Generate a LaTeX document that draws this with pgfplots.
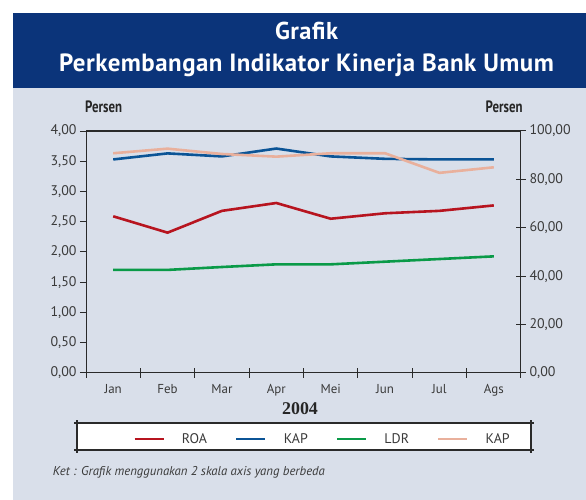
\documentclass[border=0pt]{standalone}
\usepackage{fontspec}
\setmainfont{PT Sans}
\newfontfamily\condfont{PT Sans}[FakeStretch=0.78]
\newfontfamily\titlefont{PT Sans}[LetterSpace=2]
\newfontfamily\serifb{Liberation Serif}
\usepackage{pgfplots}
\pgfplotsset{compat=1.18}
\definecolor{titlec}{HTML}{0B347A}
\definecolor{bgc}{HTML}{D9DFEA}
\definecolor{roac}{HTML}{B7141F}
\definecolor{kapc}{HTML}{0B5496}
\definecolor{ldrc}{HTML}{0A9A48}
\definecolor{kapp}{HTML}{E9B09C}
\definecolor{axc}{HTML}{2A2A2A}
\definecolor{txtc}{HTML}{3A3A3A}
\pgfplotstableread{
x roa kap
0 2.59 3.53
1 2.32 3.63
2 2.68 3.58
3 2.81 3.71
4 2.55 3.58
5 2.64 3.54
6 2.68 3.53
7 2.77 3.53
}\lefttab
\pgfplotstableread{
x ldr kapb
0 42.6 90.8
1 42.6 92.7
2 43.8 90.5
3 44.9 89.4
4 44.9 90.8
5 46.0 90.8
6 47.1 82.7
7 48.2 85.0
}\righttab
\begin{document}
\begin{tikzpicture}
\useasboundingbox (0bp,0bp) rectangle (586bp,500bp);
\fill[white] (0bp,0bp) rectangle (586bp,500bp);
\fill[bgc] (13bp,0bp) rectangle (586bp,412bp);
\fill[titlec] (13bp,412bp) rectangle (586bp,487.3bp);
\node[white, font=\titlefont\fontsize{24.5}{24.5}\selectfont\bfseries, anchor=base, inner sep=0pt] at (306.5bp,460.5bp) {Grafik};
\node[white, font=\titlefont\fontsize{25}{25}\selectfont\bfseries, anchor=base, inner sep=0pt] at (306.5bp,428bp) {Perkembangan Indikator Kinerja Bank Umum};
\node[text=black!85, font=\condfont\fontsize{16.5}{16.5}\selectfont\bfseries, anchor=base west, inner sep=0pt] at (85bp,387bp) {Persen};
\node[text=black!85, font=\condfont\fontsize{16.5}{16.5}\selectfont\bfseries, anchor=base east, inner sep=0pt] at (522.7bp,387bp) {Persen};
\node[text=black!85, font=\serifb\fontsize{18}{18}\selectfont\bfseries, anchor=base, inner sep=0pt] at (300bp,85bp) {2004};
\node[text=txtc, font=\fontsize{12.8}{12.8}\selectfont\itshape, anchor=base west, inner sep=0pt] at (52.7bp,24.5bp) {Ket : Grafik menggunakan 2 skala axis yang berbeda};
\fill[white] (76.7bp,50bp) rectangle (531bp,76.7bp);
\draw[axc, line width=1.8bp] (76.7bp,47bp) -- (76.7bp,79.7bp);
\draw[axc, line width=1.8bp] (531bp,47bp) -- (531bp,79.7bp);
\draw[axc, line width=1.8bp] (74bp,50bp) -- (533.7bp,50bp);
\draw[axc, line width=1.8bp] (74bp,76.7bp) -- (533.7bp,76.7bp);
\begin{axis}[
  at={(86bp,127bp)}, anchor=south west, scale only axis,
  width=435bp, height=242bp,
  xmin=-0.5, xmax=7.5, ymin=0, ymax=4,
  xtick={0,1,2,3,4,5,6,7},
  xticklabels={Jan,Feb,Mar,Apr,Mei,Jun,Jul,Ags},
  xtick pos=lower, ytick pos=left,
  xtick style={draw=none},
  ytick={0,0.5,1,1.5,2,2.5,3,3.5,4},
  tick align=outside, major tick length=6bp,
  axis line style={draw=axc, line width=1bp},
  tick style={draw=axc, line width=1bp},
  /pgf/number format/assume math mode=true,
  /pgf/number format/fixed, /pgf/number format/fixed zerofill,
  /pgf/number format/precision=2, /pgf/number format/use comma,
  yticklabel style={font=\fontsize{14}{14}\selectfont, text=txtc},
  xticklabel style={font=\fontsize{13}{13}\selectfont, text=txtc, yshift=-1.5bp},
]
\addplot[roac, line width=2.6bp] table[x=x, y=roa] {\lefttab};
\addplot[kapc, line width=2.6bp] table[x=x, y=kap] {\lefttab};
\end{axis}
\begin{axis}[
  at={(86bp,127bp)}, anchor=south west, scale only axis,
  width=435bp, height=242bp,
  xmin=-0.5, xmax=7.5, ymin=0, ymax=100,
  xtick={-0.5,0.5,1.5,2.5,3.5,4.5,5.5,6.5,7.5},
  xticklabels={},
  xtick pos=lower, ytick pos=right, yticklabel pos=right,
  ytick={0,20,40,60,80,100},
  tick align=center, major tick length=10bp,
  axis line style={draw=axc, line width=1bp},
  tick style={draw=axc, line width=1bp},
  /pgf/number format/assume math mode=true,
  /pgf/number format/fixed, /pgf/number format/fixed zerofill,
  /pgf/number format/precision=2, /pgf/number format/use comma,
  yticklabel style={font=\fontsize{14}{14}\selectfont, text=txtc},
  legend columns=4,
  legend image code/.code={\draw[#1] (0bp,0bp) -- (29bp,0bp);},
  legend style={draw=none, fill=none, at={(0.108,-0.2727)}, anchor=west,
    inner sep=0pt, font=\fontsize{14}{14}\selectfont, text=txtc,
    nodes={inner sep=0pt},
    /tikz/every odd column/.append style={column sep=17bp},
    /tikz/every even column/.append style={column sep=28bp}},
]
\addlegendimage{roac, line width=2.8bp}
\addlegendentry{ROA}
\addlegendimage{kapc, line width=2.8bp}
\addlegendentry{KAP}
\addplot[ldrc, line width=2.6bp] table[x=x, y=ldr] {\righttab};
\addlegendentry{LDR}
\addplot[kapp, line width=2.6bp] table[x=x, y=kapb] {\righttab};
\addlegendentry{KAP}
\end{axis}
\end{tikzpicture}
\end{document}
